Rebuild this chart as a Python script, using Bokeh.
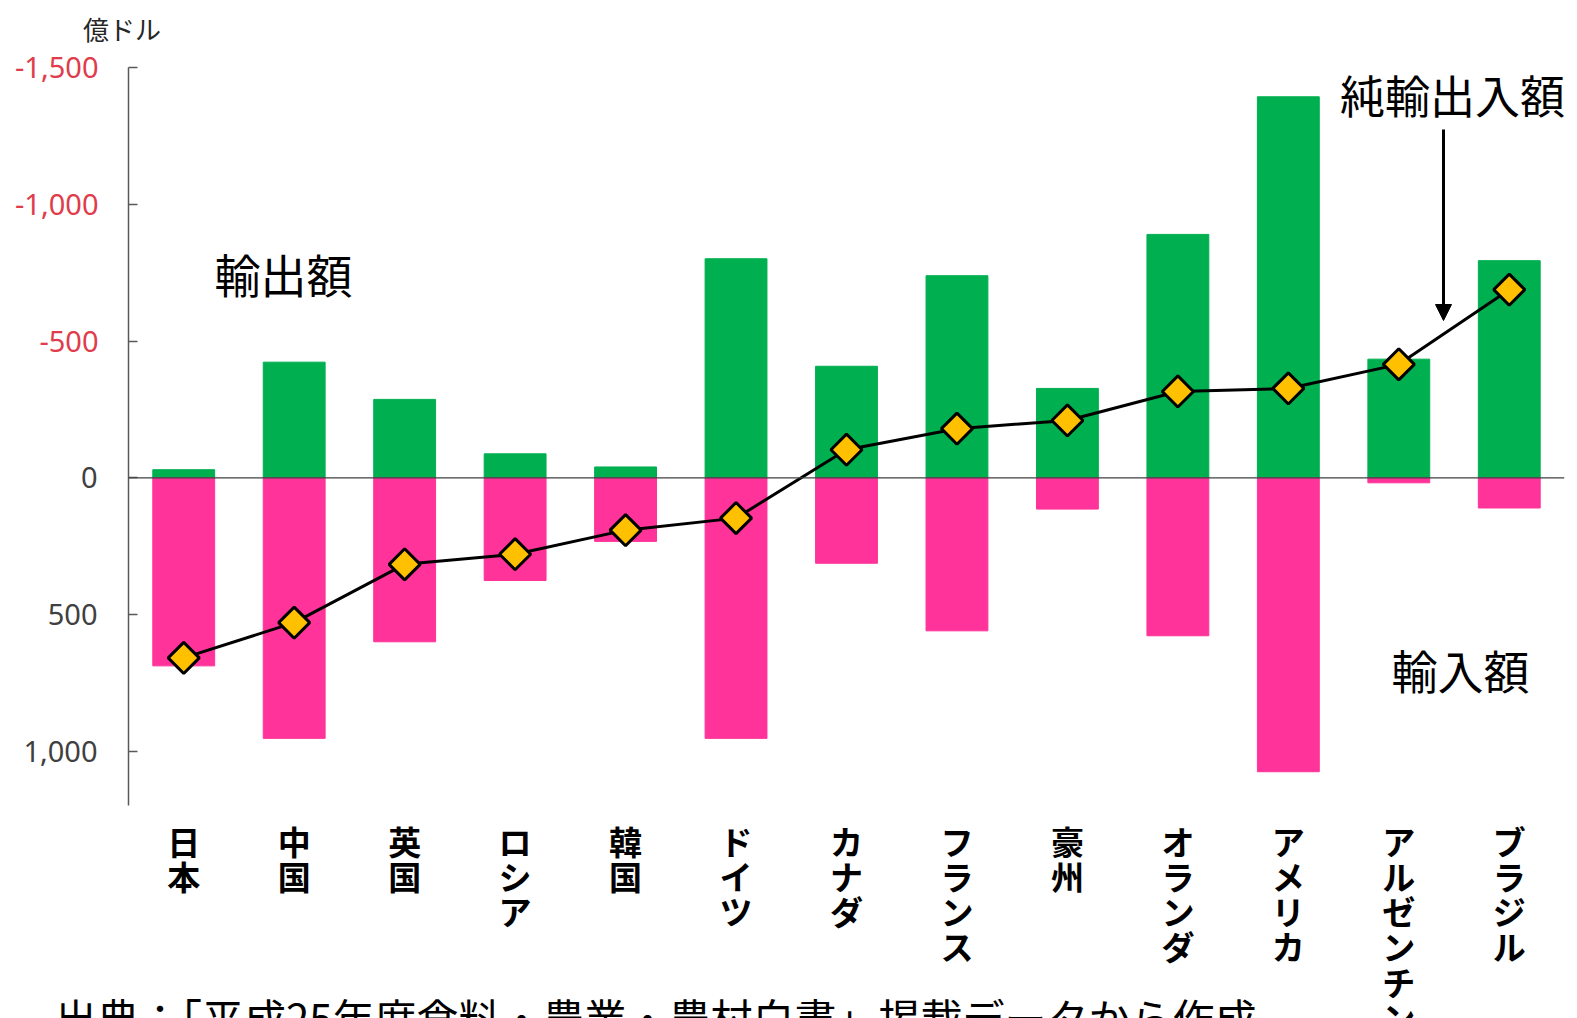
import math
from bokeh.plotting import figure
from bokeh.layouts import column
from bokeh.models import (Range1d, FactorRange, FixedTicker, Span, Label, Arrow,
                          NormalHead, LinearAxis, Div)
from bokeh.core.properties import value
from bokeh.embed import file_html
from bokeh.resources import INLINE

# ---- data (億ドル; negative = export side, drawn on top) ----
countries = ["日本", "中国", "英国", "ロシア", "韓国", "ドイツ", "カナダ",
             "フランス", "豪州", "オランダ", "アメリカ", "アルゼンチン", "ブラジル"]
exports = [30, 423, 287, 88, 40, 801, 408, 739, 327, 890, 1393, 434, 794]
imports = [687, 952, 599, 375, 232, 952, 312, 559, 114, 577, 1074, 18, 110]
net = [658, 529, 316, 279, 191, 147, -103, -180, -210, -316, -327, -415, -688]
y_ticks = [-1500, -1000, -500, 0, 500, 1000]
y_tick_labels = ["-1,500", "-1,000", "-500", "0", "500", "1,000"]
unit_label = "億ドル"
export_label = "輸出額"
import_label = "輸入額"
net_label = "純輸出入額"
source_text = "出典：「平成25年度食料・農業・農村白書」掲載データから作成"

# ---- layout constants (pixels) ----
W = 1577
H1 = 1018
BL, BR, BT = 128, 13, 67
AXIS_BOTTOM_PX = 805
PX_PER_UNIT = 136.8 / 500.0
Y_TOP = -1500
Y_AXIS_END = Y_TOP + (AXIS_BOTTOM_PX - BT) / PX_PER_UNIT
Y_FRAME_END = Y_TOP + (H1 - BT) / PX_PER_UNIT
FW = W - BL - BR

JP = "Noto Sans CJK JP"


def xd(cx):
    return (cx - BL) / FW * len(countries)


def yd(cy):
    return Y_TOP + (cy - BT) / PX_PER_UNIT


p = figure(width=W, height=H1, x_range=FactorRange(*countries),
           y_range=Range1d(Y_FRAME_END, Y_TOP),
           output_backend="svg", toolbar_location=None,
           min_border_left=BL, min_border_right=BR,
           min_border_top=BT, min_border_bottom=0)
p.outline_line_color = None
p.xgrid.visible = False
p.ygrid.visible = False
p.xaxis.visible = False
p.background_fill_color = "white"
p.border_fill_color = "white"

# inner axis: line, ticks and red (export side) labels
ax = p.yaxis[0]
ax.ticker = FixedTicker(ticks=y_ticks)
ax.bounds = (Y_TOP, Y_AXIS_END)
ax.major_label_overrides = {t: (lab if t < 0 else "") for t, lab in zip(y_ticks, y_tick_labels)}
ax.axis_line_color = "#595959"
ax.axis_line_width = 1.5
ax.major_tick_line_color = "#595959"
ax.major_tick_line_width = 1.5
ax.major_tick_in = 9
ax.major_tick_out = 0
ax.minor_tick_line_color = None
ax.major_label_standoff = 30
ax.major_label_text_font = "Noto Sans"
ax.major_label_text_font_size = "29px"
ax.major_label_text_color = "#E03C4B"

# outer axis: grey (import side) labels, shifted back to the same column
ax2 = LinearAxis(ticker=FixedTicker(ticks=y_ticks), bounds=(Y_TOP, Y_AXIS_END))
ax2.major_label_overrides = {t: (lab if t >= 0 else "") for t, lab in zip(y_ticks, y_tick_labels)}
ax2.axis_line_color = None
ax2.major_tick_line_color = None
ax2.minor_tick_line_color = None
ax2.major_tick_in = 0
ax2.major_tick_out = 0
ax2.major_label_standoff = -85
ax2.major_label_text_font = "Noto Sans"
ax2.major_label_text_font_size = "29px"
ax2.major_label_text_color = "#404040"
p.add_layout(ax2, "left")

neg_exports = [-v for v in exports]
p.vbar(x=countries, top=neg_exports, bottom=0, width=0.56, color="#00B050")
p.vbar(x=countries, top=imports, bottom=0, width=0.56, color="#FF3399")

p.add_layout(Span(location=0, dimension="width", line_color="#404040", line_width=1.3))

p.line(x=countries, y=net, line_color="black", line_width=3)
p.scatter(x=countries, y=net, marker="square", angle=math.pi / 4, size=22,
          fill_color="#FFC000", line_color="black", line_width=3)

# category labels, characters stacked vertically
label_y = [yd(816)] * len(countries)
p.text(x=countries, y=label_y, text=["\n".join(c) for c in countries],
       text_align="center", text_baseline="top", text_font=value(JP),
       text_font_style="bold", text_font_size="33px", text_line_height=0.735,
       text_color="black")

p.add_layout(Label(x=xd(283), y=yd(272), text=export_label, text_align="center",
                   text_baseline="middle", text_font=JP, text_font_size="46px",
                   text_color="black"))
p.add_layout(Label(x=xd(1452), y=yd(94), text=net_label, text_align="center",
                   text_baseline="middle", text_font=JP, text_font_size="45px",
                   text_color="black"))
p.add_layout(Label(x=xd(1460), y=yd(668), text=import_label, text_align="center",
                   text_baseline="middle", text_font=JP, text_font_size="46px",
                   text_color="black"))
p.add_layout(Arrow(end=NormalHead(size=16, fill_color="black", line_color="black"),
                   x_start=xd(1443), y_start=yd(129), x_end=xd(1443), y_end=yd(320),
                   line_color="black", line_width=3))

# unit label above the axis (overlaid on the top border)
UNIT_TOP, UNIT_H = 16, 44
unit = Div(text=unit_label, width=120, height=UNIT_H,
           margin=(UNIT_TOP - H1, 0, 0, 83),
           styles={"font-family": "'Noto Sans CJK JP', sans-serif", "font-size": "26px",
                   "line-height": "1", "color": "#262626", "white-space": "nowrap"})

# source line laid over the bottom edge, cut off as in the original
SRC_TOP, SRC_H = 996, 22
src = Div(text=source_text, width=W - 55, height=SRC_H,
          margin=(SRC_TOP - UNIT_TOP - UNIT_H, 0, 0, 55),
          styles={"font-family": "'Noto Sans CJK JP', sans-serif", "font-size": "42px",
                  "line-height": "1", "color": "black", "overflow": "hidden",
                  "white-space": "nowrap"})

layout = column(p, unit, src, spacing=0)
open("out.html", "w").write(file_html(layout, INLINE))
